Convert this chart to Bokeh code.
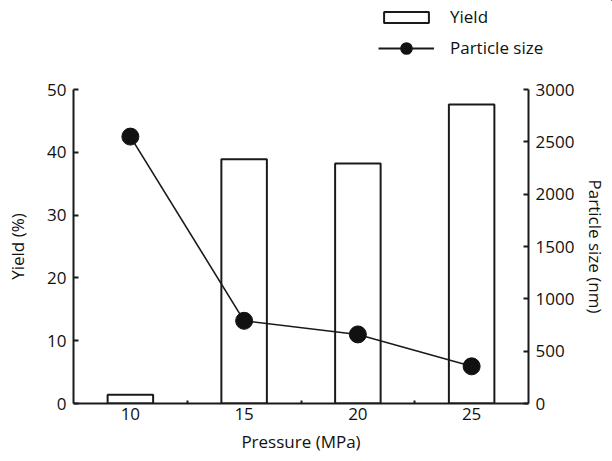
from bokeh.plotting import figure
from bokeh.layouts import column
from bokeh.models import (Range1d, LinearAxis, FixedTicker, Legend, LegendItem, ColumnDataSource)
from bokeh.embed import file_html
from bokeh.resources import INLINE

pressure = ["10", "15", "20", "25"]
yield_pct = [1.4, 38.9, 38.2, 47.6]
particle_nm = [2550, 790, 660, 355]
yield_ticks = [0, 10, 20, 30, 40, 50]
size_ticks = [0, 500, 1000, 1500, 2000, 2500, 3000]

FONT = "Open Sans"
INK = "#1a1a1a"
W = 612
TOP_H = 62
MAIN_H = 399

xpos = [i + 0.5 for i in range(len(pressure))]
src = ColumnDataSource(dict(x=xpos, yld=yield_pct, ps=particle_nm))

# ---------------- main chart ----------------
p = figure(width=W, height=MAIN_H, output_backend="svg", toolbar_location=None,
           x_range=Range1d(0, len(pressure)), y_range=Range1d(0, yield_ticks[-1]),
           min_border_left=73, min_border_right=84, min_border_top=27, min_border_bottom=58,
           x_axis_label="Pressure (MPa)", y_axis_label="Yield (%)")
p.frame_align = False
p.outline_line_color = None
p.xgrid.visible = False
p.ygrid.visible = False
p.background_fill_color = "white"
p.border_fill_color = "white"

p.extra_y_ranges = {"ps": Range1d(0, size_ticks[-1])}

p.vbar(x="x", top="yld", width=0.4, bottom=0, source=src,
       fill_color="white", line_color=INK, line_width=2)
p.line(x="x", y="ps", source=src, y_range_name="ps", line_color=INK, line_width=1.6)
p.scatter(x="x", y="ps", source=src, y_range_name="ps", marker="circle", size=17,
          fill_color="#111111", line_color="#111111")

xa = p.xaxis[0]
xa.ticker = FixedTicker(ticks=xpos, minor_ticks=list(range(1, len(pressure))))
xa.major_label_overrides = {x: lab for x, lab in zip(xpos, pressure)}
xa.major_tick_in = 0
xa.major_tick_out = 0
xa.minor_tick_in = 3
xa.minor_tick_out = 0
xa.minor_tick_line_width = 2

ya = p.yaxis[0]
ya.ticker = FixedTicker(ticks=yield_ticks)
ya.major_tick_in = 5
ya.major_tick_out = 0
ya.minor_tick_in = 0
ya.minor_tick_out = 0

ra = LinearAxis(y_range_name="ps", axis_label="Particle size (nm)",
                ticker=FixedTicker(ticks=size_ticks))
ra.major_tick_in = 5
ra.major_tick_out = 0
ra.minor_tick_in = 0
ra.minor_tick_out = 0
p.add_layout(ra, "right")

for ax in [xa, ya, ra]:
    ax.axis_line_width = 2
    ax.axis_line_color = INK
    ax.major_tick_line_width = 2
    ax.major_tick_line_color = INK
    ax.minor_tick_line_color = INK
    ax.major_label_text_font = FONT
    ax.major_label_text_font_size = "17px"
    ax.major_label_text_color = "#111111"
    ax.axis_label_text_font = FONT
    ax.axis_label_text_font_size = "17px"
    ax.axis_label_text_font_style = "normal"
    ax.axis_label_text_color = "#111111"
    ax.major_label_standoff = 7

xa.major_label_standoff = 4
xa.axis_label_standoff = 7
ya.axis_label_standoff = 15
ra.axis_label_standoff = 7

# ---------------- legend strip above ----------------
# the legend's own renderers use the same data, but the strip's ranges lie
# away from all values, so only the legend keys show
top = figure(width=W, height=TOP_H, output_backend="svg", toolbar_location=None,
             x_range=Range1d(-2 * W, -W), y_range=Range1d(-2 * TOP_H, -TOP_H), min_border=0,
             x_axis_type=None, y_axis_type=None)
top.frame_align = False
top.outline_line_color = None
top.xgrid.visible = False
top.ygrid.visible = False
top.background_fill_color = "white"
top.border_fill_color = "white"

lb = top.vbar(x="x", top="yld", width=0.4, bottom=0, source=src,
              fill_color="white", line_color=INK, line_width=2)
ll = top.line(x="x", y="ps", source=src, line_color=INK, line_width=1.8)
lm = top.scatter(x="x", y="ps", source=src, marker="circle", size=10,
                 fill_color="#111111", line_color="#111111", line_width=7)

legend = Legend(items=[LegendItem(label="Yield", renderers=[lb]),
                       LegendItem(label="Particle size", renderers=[ll, lm])],
                location=(378, 3), orientation="vertical",
                glyph_width=56, glyph_height=14, label_height=20, spacing=8,
                label_standoff=16, padding=0, margin=0,
                border_line_color=None, background_fill_alpha=0,
                label_text_font=FONT, label_text_font_size="17px", label_text_color="#111111")
top.add_layout(legend, "center")

layout = column(top, p, spacing=0)
open("out.html", "w").write(file_html(layout, INLINE))
